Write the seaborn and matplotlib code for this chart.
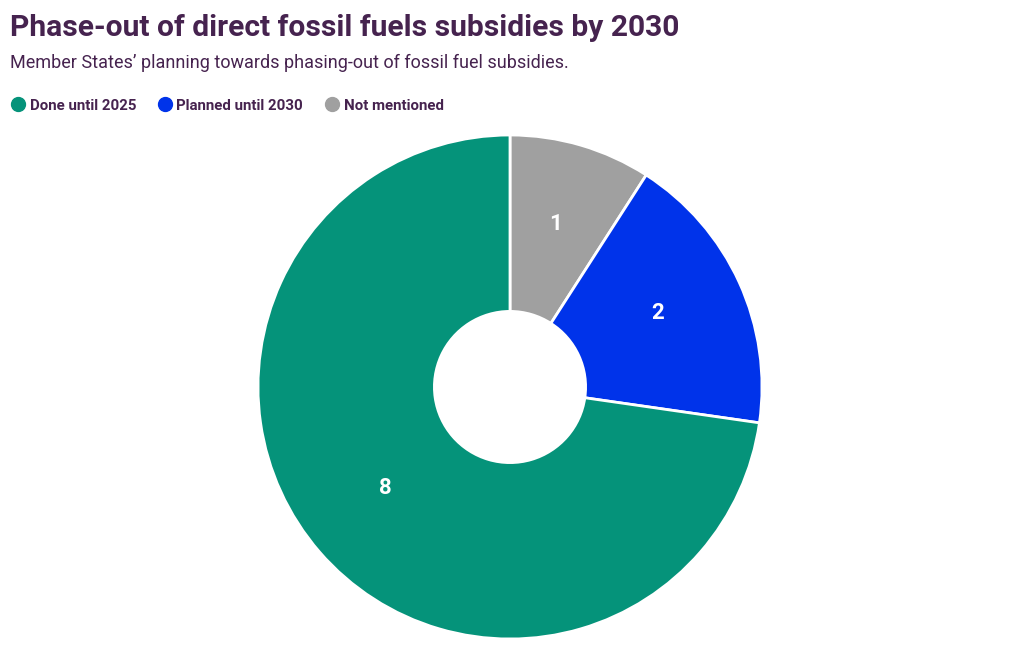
import matplotlib
matplotlib.use("Agg")
import matplotlib.pyplot as plt
from matplotlib.lines import Line2D
from matplotlib.transforms import ScaledTranslation
import seaborn as sns

categories = ["Not mentioned", "Planned until 2030", "Done until 2025"]
values = [1, 2, 8]
colors = ["#a0a0a0", "#0033ea", "#05937a"]
legend_order = ["Done until 2025", "Planned until 2030", "Not mentioned"]

title = "Phase-out of direct fossil fuels subsidies by 2030"
subtitle = "Member States\u2019 planning towards phasing-out of fossil fuel subsidies."

sns.set_theme(style="white")
plt.rcParams["font.family"] = ["Roboto", "DejaVu Sans"]

TXT = "#46234f"
W, H = 1020, 650
fig = plt.figure(figsize=(W / 100, H / 100), dpi=100)
fig.patch.set_facecolor("white")

cx, cy, r = 510, 387, 252
ax = fig.add_axes([(cx - r) / W, (H - cy - r) / H, 2 * r / W, 2 * r / H])
total = sum(values)
wedges, texts, autotexts = ax.pie(
    values,
    colors=colors,
    startangle=90,
    counterclock=False,
    radius=1,
    autopct=lambda p: f"{round(p * total / 100)}",
    pctdistance=0.65,
    wedgeprops=dict(width=0.70, edgecolor="white", linewidth=2),
    textprops=dict(color="white", fontsize=16, fontweight="bold"),
)
shift = ScaledTranslation(-1 / 100, 6 / 100, fig.dpi_scale_trans)
for t in autotexts:
    t.set_transform(ax.transData + shift)
ax.set_xlim(-1, 1)
ax.set_ylim(-1, 1)
ax.set_aspect("equal")
ax.axis("off")

fig.text(10 / W, 1 - 28 / H, title, fontsize=21.6, fontweight="bold", color=TXT,
         va="center", ha="left")
fig.text(10 / W, 1 - 63 / H, subtitle, fontsize=13, color=TXT,
         va="center", ha="left")

cmap = dict(zip(categories, colors))
handles = [Line2D([0], [0], marker="o", linestyle="", markersize=10,
                  markerfacecolor=cmap[c], markeredgecolor=cmap[c]) for c in legend_order]
leg = fig.legend(handles, legend_order, loc="center left",
                 bbox_to_anchor=(-5 / W, 1 - 105.5 / H), ncol=3, frameon=False,
                 handletextpad=0.2, columnspacing=1.3, handlelength=1.2,
                 prop=dict(weight="bold", size=10.8))
for t in leg.get_texts():
    t.set_color(TXT)

fig.savefig("out.png", dpi=100, facecolor="white")
